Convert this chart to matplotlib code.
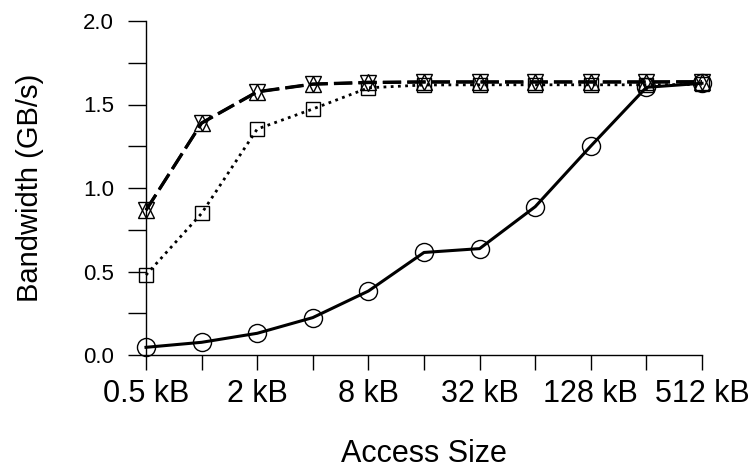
import matplotlib
matplotlib.use('Agg')
import matplotlib.pyplot as plt
from matplotlib.ticker import FixedLocator, NullFormatter

plt.rcParams['font.family'] = ['Liberation Sans', 'DejaVu Sans']

# access sizes in kB and measured bandwidth in GB/s
sizes_kb = [0.5, 1, 2, 4, 8, 16, 32, 64, 128, 256, 512]
tick_labels = ['0.5 kB', '2 kB', '8 kB', '32 kB', '128 kB', '512 kB']

bw_circle = [0.046, 0.076, 0.13, 0.224, 0.383, 0.614, 0.637, 0.888, 1.251, 1.603, 1.627]
bw_square = [0.479, 0.848, 1.353, 1.473, 1.60, 1.617, 1.618, 1.618, 1.618, 1.618, 1.62]
bw_tri_up = [0.868, 1.39, 1.577, 1.623, 1.633, 1.636, 1.636, 1.636, 1.636, 1.636, 1.637]
bw_tri_down = [0.866, 1.388, 1.575, 1.621, 1.631, 1.634, 1.634, 1.634, 1.634, 1.634, 1.635]

fig = plt.figure(figsize=(7.52, 4.68), dpi=100)
ax = fig.add_axes([146 / 752, 1 - 355 / 468, 556 / 752, 334 / 468])

mk = dict(color='black', markerfacecolor='none', markeredgecolor='black',
          markeredgewidth=1.0, clip_on=False)
ax.plot(sizes_kb, bw_circle, '-', lw=2.2, marker='o', markersize=13, **mk)
ax.plot(sizes_kb, bw_square, lw=2.0, linestyle=(0, (1, 1.6)), marker='s', markersize=9.5, **mk)
ax.plot(sizes_kb, bw_tri_up, lw=2.2, linestyle=(0, (6, 2)), marker='^', markersize=11, **mk)
ax.plot(sizes_kb, bw_tri_down, lw=2.2, linestyle=(0, (6, 2)), marker='v', markersize=11, **mk)

ax.set_xscale('log', base=2)
ax.set_xlim(0.5, 512)
ax.set_ylim(0, 2.0)

ax.xaxis.set_major_locator(FixedLocator(sizes_kb[::2]))
ax.xaxis.set_minor_locator(FixedLocator(sizes_kb[1::2]))
ax.set_xticklabels(tick_labels)
ax.xaxis.set_minor_formatter(NullFormatter())
ax.set_yticks([0, 0.5, 1.0, 1.5, 2.0])
ax.set_yticks([0.25, 0.75, 1.25, 1.75], minor=True)

for s in ['top', 'right']:
    ax.spines[s].set_visible(False)
for s in ['left', 'bottom']:
    ax.spines[s].set_linewidth(1.0)

ax.tick_params(axis='x', which='both', direction='out', length=11, width=1.0,
               labelsize=22, pad=6)
ax.tick_params(axis='y', which='both', direction='out', length=13, width=1.0,
               labelsize=16, pad=10)

ax.set_xlabel('Access Size', fontsize=22, labelpad=22)
ax.set_ylabel('Bandwidth (GB/s)', fontsize=21, labelpad=28)

fig.savefig('out.png', dpi=100)
